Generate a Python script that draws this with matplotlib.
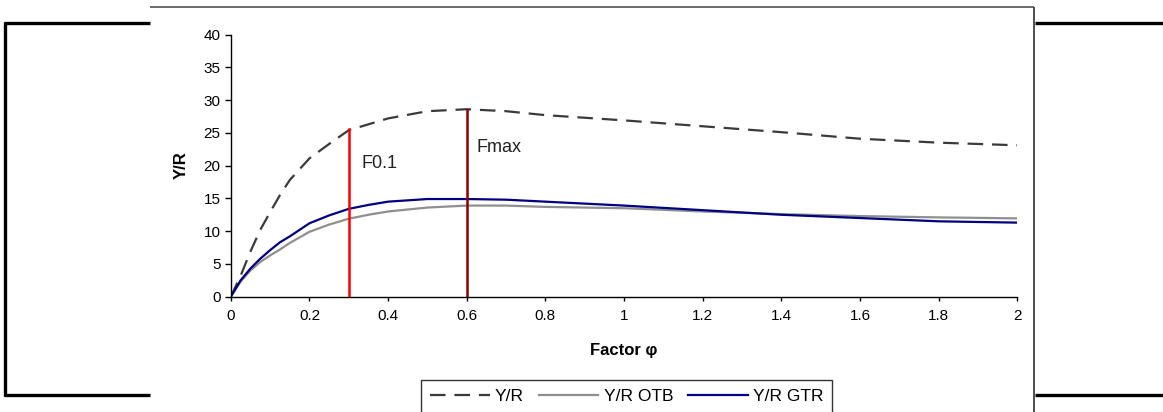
import matplotlib
matplotlib.use("Agg")
import matplotlib.pyplot as plt
from matplotlib.lines import Line2D

plt.rcParams['font.family'] = ['Liberation Sans', 'DejaVu Sans']

# ---- data ----
phi = [0, 0.025, 0.05, 0.075, 0.1, 0.125, 0.15, 0.2, 0.25, 0.3, 0.35, 0.4,
       0.5, 0.6, 0.7, 0.8, 0.9, 1.0, 1.2, 1.4, 1.6, 1.8, 2.0]
yr = [0, 3.2, 6.9, 10.2, 12.9, 15.5, 17.8, 21.1, 23.3, 25.4, 26.3, 27.2,
      28.3, 28.6, 28.3, 27.7, 27.3, 26.9, 26.0, 25.1, 24.1, 23.5, 23.1]
yr_otb = [0, 2.3, 4.0, 5.3, 6.3, 7.2, 8.2, 9.9, 11.0, 11.9, 12.5, 13.0,
          13.6, 13.9, 13.9, 13.7, 13.6, 13.5, 13.0, 12.6, 12.3, 12.1, 11.95]
yr_gtr = [0, 2.5, 4.3, 5.8, 7.1, 8.3, 9.2, 11.2, 12.4, 13.4, 14.0, 14.5,
          14.9, 14.9, 14.8, 14.5, 14.2, 13.9, 13.2, 12.5, 12.0, 11.5, 11.3]
f01_x, f01_y = 0.3, 25.6
fmax_x, fmax_y = 0.6, 28.5
series_labels = ["Y/R", "Y/R OTB", "Y/R GTR"]
xticks = [0, 0.2, 0.4, 0.6, 0.8, 1, 1.2, 1.4, 1.6, 1.8, 2]
xtick_labels = ["0", "0.2", "0.4", "0.6", "0.8", "1", "1.2", "1.4", "1.6", "1.8", "2"]
yticks = [0, 5, 10, 15, 20, 25, 30, 35, 40]

W, H = 1163, 412
fig = plt.figure(figsize=(W / 100, H / 100), dpi=100)
ax = fig.add_axes([230.8 / W, 1 - 296.7 / H, (1017.3 - 230.8) / W, (296.7 - 34.5) / H])

l1, = ax.plot(phi, yr, color='#3a3a3a', lw=1.6, linestyle=(0, (7, 4)), label=series_labels[0])
l2, = ax.plot(phi, yr_otb, color='#8f8f8f', lw=1.6, label=series_labels[1])
l3, = ax.plot(phi, yr_gtr, color='#000080', lw=1.6, label=series_labels[2])

ax.plot([f01_x, f01_x], [0, f01_y], color='#ff0000', lw=1.8, zorder=3)
ax.plot([fmax_x, fmax_x], [0, fmax_y], color='#8b0000', lw=1.8, zorder=3)
ax.text(f01_x + 0.033, 20.3, "F0.1", fontsize=13, va='center', ha='left', color='#222222')
ax.text(fmax_x + 0.025, 22.8, "Fmax", fontsize=13, va='center', ha='left', color='#222222')

ax.set_xlim(0, 2)
ax.set_ylim(0, 40)
ax.set_xticks(xticks)
ax.set_xticklabels(xtick_labels)
ax.set_yticks(yticks)
ax.tick_params(axis='both', labelsize=11, colors='black', direction='out', width=1)
ax.tick_params(axis='x', length=3, pad=6)
ax.tick_params(axis='y', length=4.5, pad=3)
for s in ['top', 'right']:
    ax.spines[s].set_visible(False)
for s in ['left', 'bottom']:
    ax.spines[s].set_linewidth(1)
    ax.spines[s].set_color('black')

ax.set_xlabel("Factor φ", fontsize=12, fontweight='bold')
ax.set_ylabel("Y/R", fontsize=12, fontweight='bold')
ax.xaxis.set_label_coords(0.5, -0.1766)
ax.yaxis.set_label_coords(-0.0532, 0.5)

leg = fig.legend(handles=[l1, l2, l3], loc='upper left',
                 bbox_to_anchor=(421 / W, 1 - 380 / H), ncol=3, fontsize=12.5,
                 frameon=True, fancybox=False, edgecolor='black',
                 handlelength=3.45, handletextpad=0.3, columnspacing=0.85,
                 borderpad=0.5, borderaxespad=0)
leg.get_frame().set_linewidth(1)

def fline(xs, ys, color, lw):
    fig.add_artist(Line2D([x / W for x in xs], [1 - y / H for y in ys],
                          transform=fig.transFigure, color=color, lw=lw,
                          solid_capstyle='butt'))

# frame decorations
fline([150, 1034], [7, 7], '#606060', 1.3)
fline([1034, 1034], [7, 412], '#404040', 1.3)
fline([5, 5], [21.5, 395.5], 'black', 2.4)
fline([4, 150], [22.5, 22.5], 'black', 2.4)
fline([4, 150], [395, 395], 'black', 2.4)
fline([1035, 1163], [22.5, 22.5], 'black', 2.4)
fline([1035, 1163], [395, 395], 'black', 2.4)

fig.savefig("out.png", dpi=100)
